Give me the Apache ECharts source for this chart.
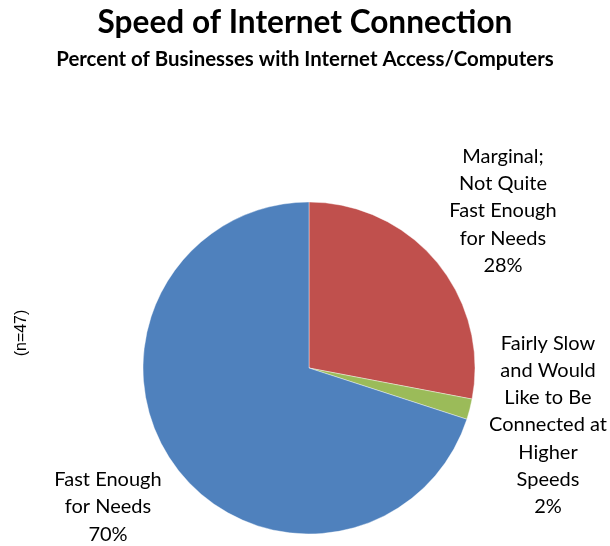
<!DOCTYPE html>
<html>
<head>
<meta charset="utf-8">
<script src="https://cdn.jsdelivr.net/npm/echarts@6/dist/echarts.min.js"></script>
<style>
  html, body { margin: 0; padding: 0; background: #fff; }
  #chart { width: 610px; height: 546px; }
</style>
</head>
<body>
<div id="chart"></div>
<script>
// Survey answers, clockwise from 12 o'clock
var categories = [
  'Marginal;\nNot Quite\nFast Enough\nfor Needs',
  'Fairly Slow\nand Would\nLike to Be\nConnected at\nHigher\nSpeeds',
  'Fast Enough\nfor Needs'
];
var percents = [28, 2, 70];
var sliceColors = ['#C0504D', '#9BBB59', '#4F81BD'];

// Where each slice's text block sits (centre of the block)
var labelAnchors = [
  { x: 503, y: 211 },
  { x: 548, y: 425 },
  { x: 108, y: 507 }
];

var FONT = 'Lato, "Open Sans", sans-serif';

var chart = echarts.init(document.getElementById('chart'), null, { renderer: 'canvas' });

chart.setOption({
  backgroundColor: '#ffffff',
  animation: false,
  title: [{
    text: 'Speed of Internet Connection',
    left: 'center',
    top: 2,
    textStyle: { fontFamily: FONT, fontWeight: 'bold', fontSize: 31.6, color: '#000' }
  }, {
    text: 'Percent of Businesses with Internet Access/Computers',
    left: 'center',
    top: 44,
    textStyle: { fontFamily: FONT, fontWeight: 'bold', fontSize: 20.4, color: '#000' }
  }],
  graphic: [{
    type: 'text',
    x: 22,
    y: 333,
    rotation: Math.PI / 2,
    style: {
      text: '(n=47)',
      fontFamily: '"Liberation Sans", Arial, sans-serif',
      fontSize: 16,
      fill: '#000',
      align: 'center',
      verticalAlign: 'middle'
    }
  }],
  series: [{
    type: 'pie',
    center: [309, 368],
    radius: 166,
    startAngle: 90,
    clockwise: true,
    silent: true,
    itemStyle: { borderColor: '#ffffff', borderWidth: 0.4 },
    label: {
      show: true,
      position: 'outside',
      fontFamily: FONT,
      fontSize: 20,
      lineHeight: 27.3,
      color: '#000',
      align: 'center',
      overflow: 'none',
      formatter: function (p) { return p.name + '\n' + p.value + '%'; }
    },
    labelLine: { show: false },
    labelLayout: function (params) {
      var a = labelAnchors[params.dataIndex];
      return { x: a.x, y: a.y, align: 'center', verticalAlign: 'middle' };
    },
    data: categories.map(function (name, i) {
      return { name: name, value: percents[i], itemStyle: { color: sliceColors[i] } };
    })
  }]
});
</script>
</body>
</html>
